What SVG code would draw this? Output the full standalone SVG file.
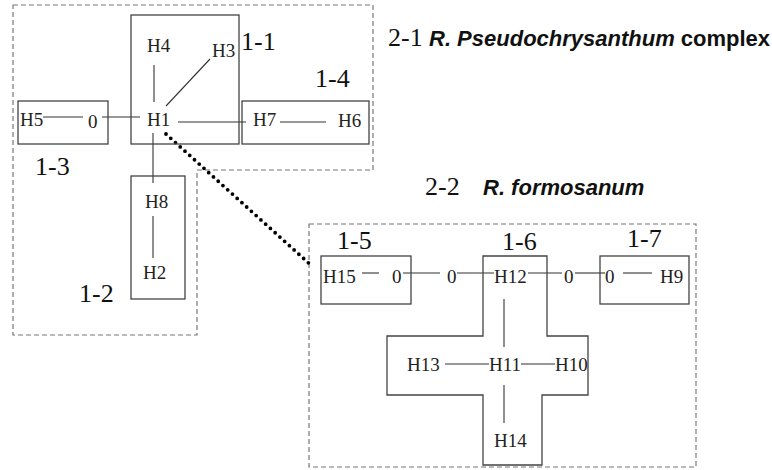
<svg xmlns="http://www.w3.org/2000/svg" width="772" height="470" viewBox="0 0 772 470">
<style>
.bg{fill:#ffffff}
.grp{fill:none;stroke:#777;stroke-width:1.2;stroke-dasharray:5 3}
.box{fill:none;stroke:#444;stroke-width:1.3}
.ln{stroke:#333;stroke-width:1.1;fill:none}
.dot{stroke:#000;stroke-width:3.8;stroke-linecap:round;stroke-dasharray:0 6.4;fill:none}
.h{font-family:"Liberation Serif","Times New Roman",serif;font-size:19px;fill:#222}
.lab{font-family:"Liberation Serif","Times New Roman",serif;font-size:26px;fill:#111}
.sp{font-family:"Liberation Sans",Arial,sans-serif;font-size:22px;font-weight:bold;fill:#111}
</style>
<rect class="bg" x="0" y="0" width="772" height="470"/>
<g id="group-2-1">
<polygon class="grp" points="13,5 373,5 373,170 197,170 197,335 13,335"/>
<text class="lab" x="388" y="46">2-1</text>
<text class="sp" x="429" y="46"><tspan font-style="italic">R. Pseudochrysanthum</tspan> complex</text>
</g>
<g id="group-2-2">
<rect class="grp" x="309" y="224" width="387" height="243"/>
<text class="lab" x="425" y="195">2-2</text>
<text class="sp" x="483" y="195" font-style="italic">R. formosanum</text>
</g>
<g id="connectors">
<line class="ln" x1="154" y1="65" x2="154" y2="102"/>
<line class="ln" x1="166" y1="106" x2="210" y2="59"/>
<line class="ln" x1="43" y1="117" x2="83" y2="117"/>
<line class="ln" x1="102" y1="117" x2="140" y2="117"/>
<line class="ln" x1="178" y1="122" x2="246" y2="122"/>
<line class="ln" x1="280" y1="122" x2="326" y2="122"/>
<line class="ln" x1="153" y1="133" x2="153" y2="183"/>
<line class="ln" x1="153" y1="216" x2="153" y2="258"/>
<line class="dot" x1="166" y1="134" x2="313" y2="267"/>
<line class="ln" x1="362" y1="273" x2="379" y2="273"/>
<line class="ln" x1="403" y1="273" x2="440" y2="273"/>
<line class="ln" x1="457" y1="273" x2="494" y2="273"/>
<line class="ln" x1="528" y1="273" x2="562" y2="273"/>
<line class="ln" x1="575" y1="273" x2="605" y2="273"/>
<line class="ln" x1="623" y1="273" x2="652" y2="273"/>
<line class="ln" x1="504" y1="299" x2="504" y2="347"/>
<line class="ln" x1="445" y1="364" x2="489" y2="364"/>
<line class="ln" x1="521" y1="364" x2="555" y2="364"/>
<line class="ln" x1="504" y1="385" x2="504" y2="423"/>
</g>
<g id="node-1-1">
<rect class="box" x="131" y="15" width="108" height="129"/>
<text class="lab" x="241" y="50">1-1</text>
<text class="h" x="147" y="52">H4</text>
<text class="h" x="212" y="57">H3</text>
<text class="h" x="147" y="126">H1</text>
</g>
<g id="node-1-3">
<rect class="box" x="18" y="101" width="90" height="43"/>
<text class="lab" x="35" y="175">1-3</text>
<text class="h" x="20" y="126">H5</text>
<text class="h" x="88" y="128">0</text>
</g>
<g id="node-1-4">
<rect class="box" x="242" y="101" width="127" height="43"/>
<text class="lab" x="315" y="87">1-4</text>
<text class="h" x="253" y="126">H7</text>
<text class="h" x="338" y="127">H6</text>
</g>
<g id="node-1-2">
<rect class="box" x="131" y="176" width="54" height="123"/>
<text class="lab" x="79" y="302">1-2</text>
<text class="h" x="145" y="208">H8</text>
<text class="h" x="143" y="279">H2</text>
</g>
<g id="node-1-5">
<rect class="box" x="321" y="256" width="90" height="48"/>
<text class="lab" x="337" y="249">1-5</text>
<text class="h" x="323" y="283">H15</text>
<text class="h" x="392" y="283">0</text>
</g>
<g id="node-0a">
<text class="h" x="447" y="283">0</text>
</g>
<g id="node-1-6">
<polygon class="box" points="483,256 547,256 547,336 588,336 588,395 542,395 542,465 483,465 483,395 387,395 387,336 483,336"/>
<text class="lab" x="502" y="250">1-6</text>
<text class="h" x="494" y="283">H12</text>
<text class="h" x="407" y="371">H13</text>
<text class="h" x="489" y="371">H11</text>
<text class="h" x="555" y="371">H10</text>
<text class="h" x="494" y="447">H14</text>
</g>
<g id="node-0b">
<text class="h" x="564" y="283">0</text>
</g>
<g id="node-1-7">
<rect class="box" x="600" y="256" width="89" height="48"/>
<text class="lab" x="627" y="247">1-7</text>
<text class="h" x="605" y="283">0</text>
<text class="h" x="660" y="283">H9</text>
</g>
</svg>
